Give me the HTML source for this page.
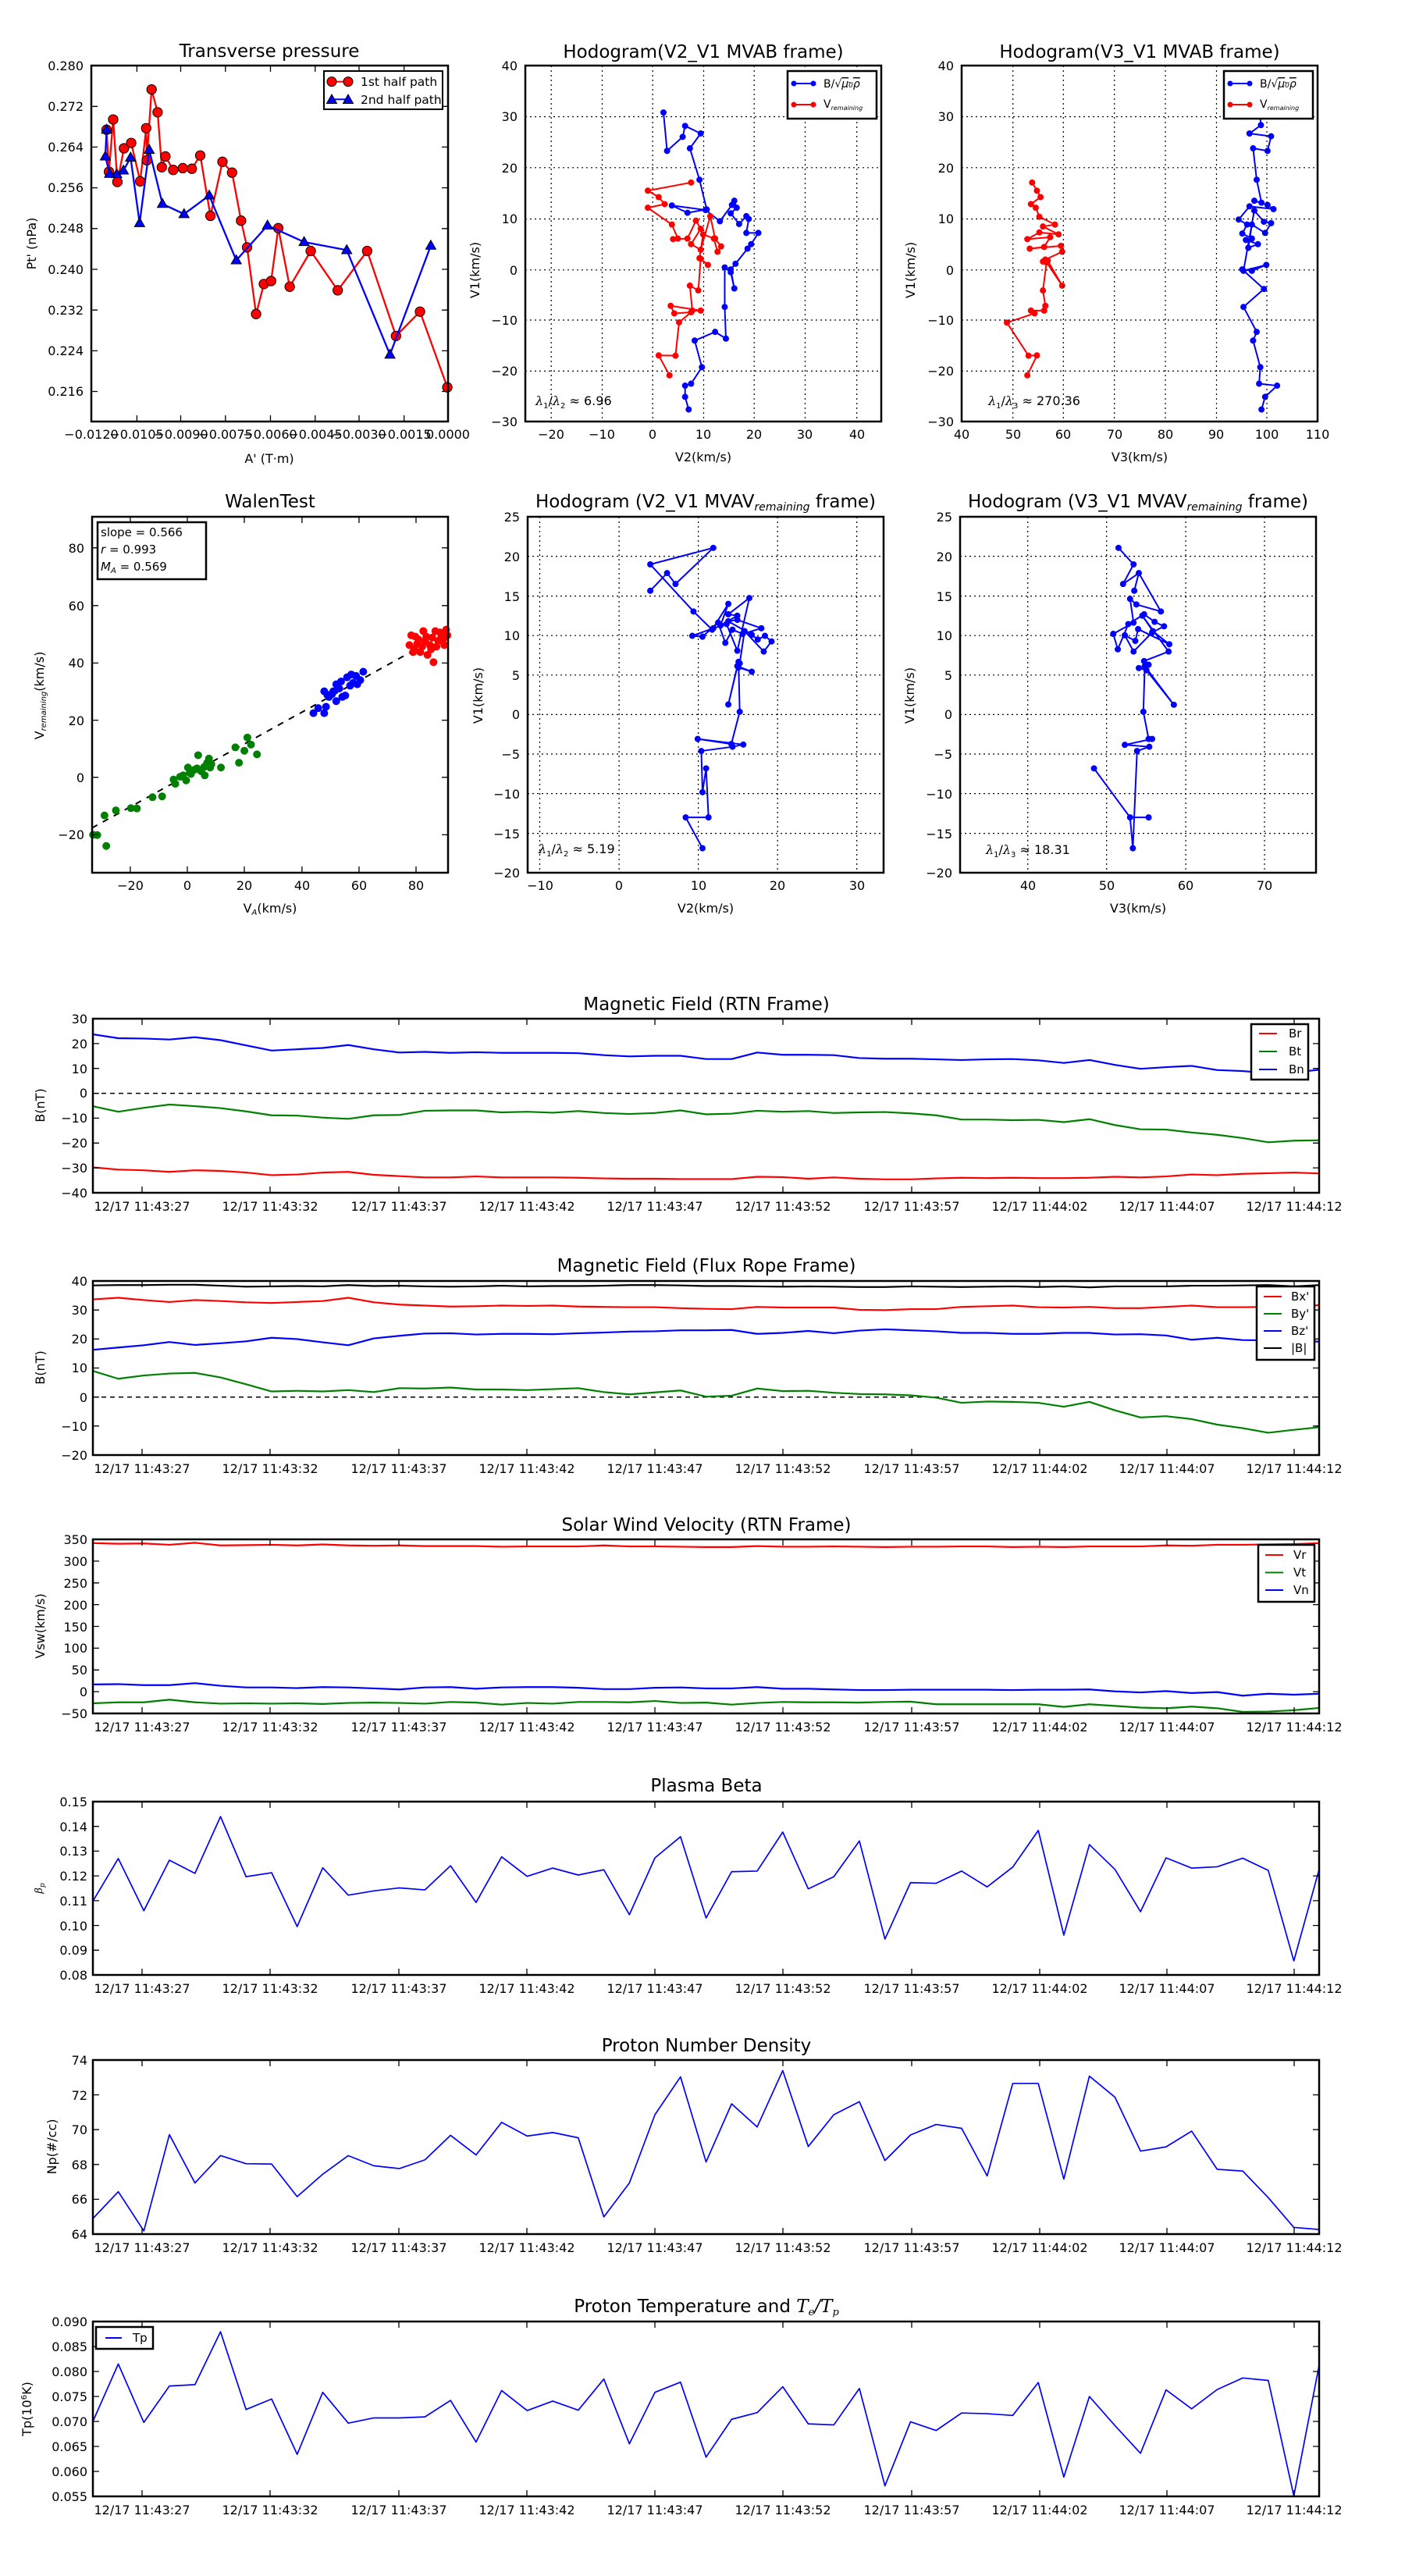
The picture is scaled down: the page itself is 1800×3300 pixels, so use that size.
<!DOCTYPE html>
<html><head><meta charset="utf-8">
<style>
html,body{margin:0;padding:0;background:#fff;}
svg{display:block;font-family:"DejaVu Sans","Liberation Sans",sans-serif;}
.t{font-size:23px;text-anchor:middle;}
.k{font-size:16px;}
.ke{font-size:16px;text-anchor:end;}
.km{font-size:16px;text-anchor:middle;}
.lg{font-size:15px;}
.ax{fill:none;stroke:#000;stroke-width:2.5;}
.tk{fill:none;stroke:#000;stroke-width:1.3;}
.gr{fill:none;stroke:#000;stroke-width:1.2;stroke-dasharray:2 4;}
.ln{fill:none;vector-effect:non-scaling-stroke;stroke-linejoin:round;}
.dt{fill:none;vector-effect:non-scaling-stroke;stroke-linecap:round;}
</style></head><body>
<svg width="1800" height="3300" viewBox="0 0 1800 3300" xmlns="http://www.w3.org/2000/svg">
<rect width="1800" height="3300" fill="#fff"/>

<!-- ===== Panel A: Transverse pressure ===== -->
<text class="t" x="345" y="73">Transverse pressure</text>
<g transform="scale(0.384615)">
<polyline fill="none" stroke="#f00" stroke-width="6" points="355,432 363,572 377,398 391,606 413,494 437,476 467,604 487,427 489,534 505,298 525,374 539,557 551,521 577,566 609,560 639,562 667,518 701,719 741,539 773,575 803,735 823,824 853,1046 879,946 903,936 927,760 965,955 1035,836 1125,967 1223,836 1319,1119 1399,1038 1490,1290"/>
<g fill="#f00" stroke="#000" stroke-width="2.5">
<circle cx="355" cy="432" r="16"/><circle cx="363" cy="572" r="16"/><circle cx="377" cy="398" r="16"/><circle cx="391" cy="606" r="16"/><circle cx="413" cy="494" r="16"/><circle cx="437" cy="476" r="16"/><circle cx="467" cy="604" r="16"/><circle cx="487" cy="427" r="16"/><circle cx="489" cy="534" r="16"/><circle cx="505" cy="298" r="16"/><circle cx="525" cy="374" r="16"/><circle cx="539" cy="557" r="16"/><circle cx="551" cy="521" r="16"/><circle cx="577" cy="566" r="16"/><circle cx="609" cy="560" r="16"/><circle cx="639" cy="562" r="16"/><circle cx="667" cy="518" r="16"/><circle cx="701" cy="719" r="16"/><circle cx="741" cy="539" r="16"/><circle cx="773" cy="575" r="16"/><circle cx="803" cy="735" r="16"/><circle cx="823" cy="824" r="16"/><circle cx="853" cy="1046" r="16"/><circle cx="879" cy="946" r="16"/><circle cx="903" cy="936" r="16"/><circle cx="927" cy="760" r="16"/><circle cx="965" cy="955" r="16"/><circle cx="1035" cy="836" r="16"/><circle cx="1125" cy="967" r="16"/><circle cx="1223" cy="836" r="16"/><circle cx="1319" cy="1119" r="16"/><circle cx="1399" cy="1038" r="16"/><circle cx="1490" cy="1290" r="16"/>
</g>
<polyline fill="none" stroke="#00f" stroke-width="6" points="355,432 351,521 365,579 389,580 411,568 435,525 465,743 497,499 541,679 613,713 697,651 787,867 891,751 1013,806 1155,833 1299,1181 1435,818"/>
<g fill="#00f" stroke="#000" stroke-width="2.5">
<path d="M355,414 l17,30 h-34z M351,503 l17,30 h-34z M365,561 l17,30 h-34z M389,562 l17,30 h-34z M411,550 l17,30 h-34z M435,507 l17,30 h-34z M465,725 l17,30 h-34z M497,481 l17,30 h-34z M541,661 l17,30 h-34z M613,695 l17,30 h-34z M697,633 l17,30 h-34z M787,849 l17,30 h-34z M891,733 l17,30 h-34z M1013,788 l17,30 h-34z M1155,815 l17,30 h-34z M1299,1163 l17,30 h-34z M1435,800 l17,30 h-34z"/>
</g>
</g>
<rect class="ax" x="117" y="84" width="457" height="456"/>
<path class="tk" d="M117,136.3h8M117,188.4h8M117,240.6h8M117,292.8h8M117,345h8M117,397.2h8M117,449.4h8M117,501.5h8 M574,136.3h-8M574,188.4h-8M574,240.6h-8M574,292.8h-8M574,345h-8M574,397.2h-8M574,449.4h-8M574,501.5h-8 M175.4,540v-8M231.5,540v-8M288.8,540v-8M346.5,540v-8M403.8,540v-8M460,540v-8M517.7,540v-8 M175.4,84v8M231.5,84v8M288.8,84v8M346.5,84v8M403.8,84v8M460,84v8M517.7,84v8"/>
<g class="ke"><text x="107" y="90">0.280</text><text x="107" y="142">0.272</text><text x="107" y="194">0.264</text><text x="107" y="246">0.256</text><text x="107" y="298">0.248</text><text x="107" y="351">0.240</text><text x="107" y="403">0.232</text><text x="107" y="455">0.224</text><text x="107" y="507">0.216</text></g>
<g class="km"><text x="117" y="562">−0.0120</text><text x="175" y="562">−0.0105</text><text x="232" y="562">−0.0090</text><text x="289" y="562">−0.0075</text><text x="346" y="562">−0.0060</text><text x="404" y="562">−0.0045</text><text x="460" y="562">−0.0030</text><text x="518" y="562">−0.0015</text><text x="574" y="562">0.0000</text></g>
<text class="km" x="345" y="593">A' (T·m)</text>
<text class="km" transform="translate(46,312) rotate(-90)">Pt' (nPa)</text>
<rect x="415" y="91" width="152" height="49" fill="#fff" stroke="#000" stroke-width="2"/>
<line x1="425" y1="104.6" x2="446" y2="104.6" stroke="#f00" stroke-width="2"/>
<circle cx="425" cy="104.6" r="6" fill="#f00" stroke="#000"/><circle cx="446" cy="104.6" r="6" fill="#f00" stroke="#000"/>
<line x1="425" y1="127.3" x2="446" y2="127.3" stroke="#00f" stroke-width="2"/>
<path d="M425,121 l6.5,11.5 h-13z M446,121 l6.5,11.5 h-13z" fill="#00f" stroke="#000"/>
<text x="462" y="110" style="font-size:15.5px">1st half path</text>
<text x="462" y="133" style="font-size:15.5px">2nd half path</text>

<!-- ===== Hodogram V2_V1 MVAB ===== -->
<text class="t" x="901" y="74">Hodogram(V2_V1 MVAB frame)</text>
<path class="gr" d="M706.2,84V540M771.5,84V540M836.2,84V540M901.5,84V540M966.2,84V540M1031.5,84V540M1097.7,84V540 M673,149.5H1129M673,214.8H1129M673,280.5H1129M673,345.8H1129M673,410H1129M673,475.4H1129"/>
<g transform="translate(600,40) scale(0.76923,0.35894)">
<polyline class="ln" stroke="#00f" stroke-width="2" points="325,290 331,427 357,377 361,338 387,365 369,418 385,530 397,636 365,648 339,622 395,638 419,678 439,620 443,605 447,630 437,650 451,688 463,660 467,670 463,720 483,720 471,760 465,776 445,830 437,850 443,918 437,860 427,843 427,984 429,1097 411,1073 377,1104 389,1199 371,1258 361,1265 361,1305 367,1350"/>
<path class="dt" stroke="#00f" stroke-width="8" d="M325,290h0M331,427h0M357,377h0M361,338h0M387,365h0M369,418h0M385,530h0M397,636h0M365,648h0M339,622h0M395,638h0M419,678h0M439,620h0M443,605h0M447,630h0M437,650h0M451,688h0M463,660h0M467,670h0M463,720h0M483,720h0M471,760h0M465,776h0M445,830h0M437,850h0M443,918h0M437,860h0M427,843h0M427,984h0M429,1097h0M411,1073h0M377,1104h0M389,1199h0M371,1258h0M361,1265h0M361,1305h0M367,1350h0"/>
<polyline class="ln" stroke="#f00" stroke-width="2" points="371,540 299,569 317,592 327,617 299,630 339,690 349,740 341,742 365,740 379,676 387,705 371,760 387,780 403,660 411,740 421,768 415,787 409,740 391,725 385,810 399,834 387,812 383,925 369,908 373,997 387,997 337,980 343,1007 371,1003 351,1039 345,1158 317,1157 335,1228"/>
<path class="dt" stroke="#f00" stroke-width="8" d="M371,540h0M299,569h0M317,592h0M327,617h0M299,630h0M339,690h0M349,740h0M341,742h0M365,740h0M379,676h0M387,705h0M371,760h0M387,780h0M403,660h0M411,740h0M421,768h0M415,787h0M409,740h0M391,725h0M385,810h0M399,834h0M387,812h0M383,925h0M369,908h0M373,997h0M387,997h0M337,980h0M343,1007h0M371,1003h0M351,1039h0M345,1158h0M317,1157h0M335,1228h0"/>
<polyline class="ln" stroke="#00f" stroke-width="2" points="1319,310 1320,335 1301,365 1337,375 1331,427 1307,418 1313,530 1321,612 1309,605 1331,620 1341,635 1301,625 1283,672 1297,690 1289,722 1305,740 1295,745 1315,760 1299,773 1305,690 1327,720 1337,685 1325,680 1309,640 1291,855 1329,834 1305,855 1289,850 1325,920 1291,984 1313,1073 1307,1104 1319,1199 1317,1258 1347,1265 1327,1305 1321,1350"/>
<path class="dt" stroke="#00f" stroke-width="8" d="M1320,335h0M1301,365h0M1337,375h0M1331,427h0M1307,418h0M1313,530h0M1321,612h0M1309,605h0M1331,620h0M1341,635h0M1301,625h0M1283,672h0M1297,690h0M1289,722h0M1305,740h0M1295,745h0M1315,760h0M1299,773h0M1305,690h0M1327,720h0M1337,685h0M1325,680h0M1309,640h0M1291,855h0M1329,834h0M1305,855h0M1289,850h0M1325,920h0M1291,984h0M1313,1073h0M1307,1104h0M1319,1199h0M1317,1258h0M1347,1265h0M1327,1305h0M1321,1350h0"/>
<polyline class="ln" stroke="#f00" stroke-width="2" points="939,540 947,569 953,592 937,617 945,630 951,662 977,690 957,697 983,725 951,718 931,742 969,735 959,770 935,776 987,766 989,787 961,815 957,822 965,819 989,908 963,825 957,925 961,980 959,997 937,997 943,1007 897,1040 933,1158 947,1157 931,1228"/>
<path class="dt" stroke="#f00" stroke-width="8" d="M939,540h0M947,569h0M953,592h0M937,617h0M945,630h0M951,662h0M977,690h0M957,697h0M983,725h0M951,718h0M931,742h0M969,735h0M959,770h0M935,776h0M987,766h0M989,787h0M961,815h0M957,822h0M965,819h0M989,908h0M963,825h0M957,925h0M961,980h0M959,997h0M937,997h0M943,1007h0M897,1040h0M933,1158h0M947,1157h0M931,1228h0"/>
</g>
<rect class="ax" x="673" y="84" width="456" height="456"/>
<g class="ke"><text x="663" y="90">40</text><text x="663" y="155">30</text><text x="663" y="221">20</text><text x="663" y="286">10</text><text x="663" y="352">0</text><text x="663" y="416">−10</text><text x="663" y="481">−20</text><text x="663" y="546">−30</text></g>
<g class="km"><text x="706" y="562">−20</text><text x="771" y="562">−10</text><text x="836" y="562">0</text><text x="901" y="562">10</text><text x="966" y="562">20</text><text x="1031" y="562">30</text><text x="1098" y="562">40</text></g>
<text class="km" x="901" y="591">V2(km/s)</text>
<text class="km" transform="translate(614,346) rotate(-90)">V1(km/s)</text>
<text x="686" y="519" style="font-size:16px"><tspan font-style="italic" font-family="DejaVu Serif,serif">λ</tspan><tspan font-size="10" dy="4">1</tspan><tspan dy="-4">/</tspan><tspan font-style="italic" font-family="DejaVu Serif,serif">λ</tspan><tspan font-size="10" dy="4">2</tspan><tspan dy="-4"> ≈ 6.96</tspan></text>
<rect x="1009" y="91" width="114" height="61" fill="#fff" stroke="#000" stroke-width="2.5"/>
<line x1="1017" y1="107" x2="1042" y2="107" stroke="#00f" stroke-width="2"/><circle cx="1017" cy="107" r="3.5" fill="#00f"/><circle cx="1042" cy="107" r="3.5" fill="#00f"/>
<line x1="1017" y1="134" x2="1042" y2="134" stroke="#f00" stroke-width="2"/><circle cx="1017" cy="134" r="3.5" fill="#f00"/><circle cx="1042" cy="134" r="3.5" fill="#f00"/>
<text x="1055" y="112" style="font-size:14px">B/√<tspan font-style="italic" text-decoration="overline">μ<tspan font-size="9">0</tspan>ρ</tspan></text>
<text x="1055" y="138" style="font-size:14px">V<tspan font-size="8" font-style="italic" dy="3">remaining</tspan></text>

<!-- ===== Hodogram V3_V1 MVAB ===== -->
<text class="t" x="1460" y="74">Hodogram(V3_V1 MVAB frame)</text>
<path class="gr" d="M1297.7,84V540M1362.3,84V540M1427.7,84V540M1493,84V540M1558.5,84V540M1623,84V540 M1232,149.5H1688M1232,214.8H1688M1232,280.5H1688M1232,345.8H1688M1232,410H1688M1232,475.4H1688"/>
<rect class="ax" x="1232" y="84" width="456" height="456"/>
<g class="ke"><text x="1222" y="90">40</text><text x="1222" y="155">30</text><text x="1222" y="221">20</text><text x="1222" y="286">10</text><text x="1222" y="352">0</text><text x="1222" y="416">−10</text><text x="1222" y="481">−20</text><text x="1222" y="546">−30</text></g>
<g class="km"><text x="1232" y="562">40</text><text x="1298" y="562">50</text><text x="1362" y="562">60</text><text x="1428" y="562">70</text><text x="1493" y="562">80</text><text x="1558" y="562">90</text><text x="1623" y="562">100</text><text x="1688" y="562">110</text></g>
<text class="km" x="1460" y="591">V3(km/s)</text>
<text class="km" transform="translate(1172,346) rotate(-90)">V1(km/s)</text>
<text x="1266" y="519" style="font-size:16px"><tspan font-style="italic" font-family="DejaVu Serif,serif">λ</tspan><tspan font-size="10" dy="4">1</tspan><tspan dy="-4">/</tspan><tspan font-style="italic" font-family="DejaVu Serif,serif">λ</tspan><tspan font-size="10" dy="4">3</tspan><tspan dy="-4"> ≈ 270.36</tspan></text>
<rect x="1568" y="91" width="114" height="61" fill="#fff" stroke="#000" stroke-width="2.5"/>
<line x1="1576" y1="107" x2="1601" y2="107" stroke="#00f" stroke-width="2"/><circle cx="1576" cy="107" r="3.5" fill="#00f"/><circle cx="1601" cy="107" r="3.5" fill="#00f"/>
<line x1="1576" y1="134" x2="1601" y2="134" stroke="#f00" stroke-width="2"/><circle cx="1576" cy="134" r="3.5" fill="#f00"/><circle cx="1601" cy="134" r="3.5" fill="#f00"/>
<text x="1614" y="112" style="font-size:14px">B/√<tspan font-style="italic" text-decoration="overline">μ<tspan font-size="9">0</tspan>ρ</tspan></text>
<text x="1614" y="138" style="font-size:14px">V<tspan font-size="8" font-style="italic" dy="3">remaining</tspan></text>

<!-- ===== WalenTest ===== -->
<text class="t" x="346" y="650">WalenTest</text>
<g transform="translate(0,620) scale(0.76923,0.35894)">
<line class="ln" x1="153" y1="1228" x2="746" y2="527" stroke="#000" stroke-width="2" style="stroke-dasharray:8 8"/>
<path class="dt" stroke="#008000" stroke-width="10" d="M155,1252h0M162,1253h0M174,1183h0M177,1292h0M193,1165h0M218,1157h0M228,1158h0M254,1118h0M270,1115h0M289,1055h0M292,1070h0M310,1058h0M313,1012h0M318,1035h0M324,1020h0M330,968h0M335,1025h0M341,1040h0M348,980h0M350,1012h0M352,1000h0M368,1012h0M392,940h0M398,995h0M407,952h0M412,905h0M418,930h0M428,965h0M316,1030h0M305,1040h0M340,1010h0M345,995h0M300,1045h0M328,1015h0"/>
<path class="dt" stroke="#00f" stroke-width="10" d="M522,818h0M530,800h0M540,818h0M543,795h0M540,740h0M548,760h0M553,750h0M560,775h0M560,715h0M565,730h0M570,760h0M575,755h0M578,690h0M583,720h0M588,710h0M593,685h0M600,700h0M605,670h0M595,715h0M585,680h0M555,740h0M545,752h0M568,705h0"/>
<path class="dt" stroke="#f00" stroke-width="10" d="M685,540h0M690,590h0M695,570h0M700,600h0M705,525h0M708,560h0M712,610h0M716,575h0M720,548h0M722,636h0M725,525h0M730,560h0M735,545h0M740,575h0M743,520h0M688,600h0M697,555h0M703,580h0M710,545h0M718,590h0M727,580h0M733,530h0M738,555h0M745,540h0M682,575h0M692,545h0"/>
</g>
<rect class="ax" x="118" y="662" width="456" height="456"/>
<path class="tk" d="M118,701.8h8M118,775.8h8M118,849.4h8M118,922.6h8M118,995.8h8M118,1069.4h8 M574,701.8h-8M574,775.8h-8M574,849.4h-8M574,922.6h-8M574,995.8h-8M574,1069.4h-8 M166.9,1118v-8M240,1118v-8M313,1118v-8M386.9,1118v-8M460,1118v-8M533,1118v-8 M166.9,662v8M240,662v8M313,662v8M386.9,662v8M460,662v8M533,662v8"/>
<g class="ke"><text x="108" y="708">80</text><text x="108" y="782">60</text><text x="108" y="855">40</text><text x="108" y="929">20</text><text x="108" y="1002">0</text><text x="108" y="1075">−20</text></g>
<g class="km"><text x="167" y="1140">−20</text><text x="240" y="1140">0</text><text x="313" y="1140">20</text><text x="387" y="1140">40</text><text x="460" y="1140">60</text><text x="533" y="1140">80</text></g>
<text class="km" x="346" y="1169">V<tspan font-size="10" font-style="italic" dy="3">A</tspan><tspan dy="-3">(km/s)</tspan></text>
<text class="km" transform="translate(56,891) rotate(-90)">V<tspan font-size="10" font-style="italic" dy="3">remaining</tspan><tspan dy="-3">(km/s)</tspan></text>
<rect x="125" y="669" width="139" height="73" fill="#fff" stroke="#000" stroke-width="2.5"/>
<text x="129" y="687" style="font-size:15px">slope = 0.566</text>
<text x="129" y="709" style="font-size:15px"><tspan font-style="italic">r</tspan> = 0.993</text>
<text x="129" y="731" style="font-size:15px"><tspan font-style="italic">M<tspan font-size="10" dy="3">A</tspan></tspan><tspan dy="-3"> = 0.569</tspan></text>

<!-- ===== Hodogram V2_V1 MVAV ===== -->
<text class="t" x="904" y="650">Hodogram (V2_V1 MVAV<tspan font-size="14" font-style="italic" dy="4">remaining</tspan><tspan dy="-4"> frame)</tspan></text>
<path class="gr" d="M691.5,662V1118M793.1,662V1118M894.6,662V1118M996.2,662V1118M1097.7,662V1118 M676,712.6H1132M676,763.6H1132M676,814.2H1132M676,864.8H1132M676,915.4H1132M676,966H1132M676,1016.6H1132M676,1067.6H1132"/>
<g transform="translate(0,620) scale(0.76923,0.35894)">
<polyline class="ln" stroke="#00f" stroke-width="2" points="1083,381 1111,318 1125,357 1188,228 1083,287 1155,455 1186,520 1213,428 1200,505 1228,470 1213,465 1248,407 1228,595 1210,500 1188,515 1153,542 1170,545 1196,495 1208,567 1220,520 1237,535 1268,515 1228,485 1213,490 1252,538 1262,555 1274,542 1285,562 1272,598 1240,525 1232,640 1230,655 1252,670 1228,650 1213,787 1230,635 1232,813 1218,928 1162,910 1238,930 1220,938 1168,953 1170,1100 1176,1015 1180,1190 1142,1190 1170,1300"/>
<path class="dt" stroke="#00f" stroke-width="8" d="M1083,381h0M1111,318h0M1125,357h0M1188,228h0M1083,287h0M1155,455h0M1186,520h0M1213,428h0M1200,505h0M1228,470h0M1213,465h0M1248,407h0M1228,595h0M1210,500h0M1188,515h0M1153,542h0M1170,545h0M1196,495h0M1208,567h0M1220,520h0M1237,535h0M1268,515h0M1228,485h0M1213,490h0M1252,538h0M1262,555h0M1274,542h0M1285,562h0M1272,598h0M1240,525h0M1232,640h0M1230,655h0M1252,670h0M1228,650h0M1213,787h0M1230,635h0M1232,813h0M1218,928h0M1162,910h0M1238,930h0M1220,938h0M1168,953h0M1170,1100h0M1176,1015h0M1180,1190h0M1142,1190h0M1170,1300h0"/>
</g>
<rect class="ax" x="676" y="662" width="456" height="456"/>
<g class="ke"><text x="666" y="668">25</text><text x="666" y="719">20</text><text x="666" y="770">15</text><text x="666" y="820">10</text><text x="666" y="871">5</text><text x="666" y="921">0</text><text x="666" y="972">−5</text><text x="666" y="1023">−10</text><text x="666" y="1074">−15</text><text x="666" y="1124">−20</text></g>
<g class="km"><text x="692" y="1140">−10</text><text x="793" y="1140">0</text><text x="895" y="1140">10</text><text x="996" y="1140">20</text><text x="1098" y="1140">30</text></g>
<text class="km" x="904" y="1169">V2(km/s)</text>
<text class="km" transform="translate(618,891) rotate(-90)">V1(km/s)</text>
<text x="690" y="1093" style="font-size:16px"><tspan font-style="italic" font-family="DejaVu Serif,serif">λ</tspan><tspan font-size="10" dy="4">1</tspan><tspan dy="-4">/</tspan><tspan font-style="italic" font-family="DejaVu Serif,serif">λ</tspan><tspan font-size="10" dy="4">2</tspan><tspan dy="-4"> ≈ 5.19</tspan></text>

<!-- ===== Hodogram V3_V1 MVAV ===== -->
<text class="t" x="1458" y="650">Hodogram (V3_V1 MVAV<tspan font-size="14" font-style="italic" dy="4">remaining</tspan><tspan dy="-4"> frame)</tspan></text>
<path class="gr" d="M1316.7,662V1118M1417.7,662V1118M1519.1,662V1118M1620,662V1118 M1230,712.6H1686M1230,763.6H1686M1230,814.2H1686M1230,864.8H1686M1230,915.4H1686M1230,966H1686M1230,1016.6H1686M1230,1067.6H1686"/>
<g transform="translate(1100,620) scale(0.44872,0.35894)">
<polyline class="ln" stroke="#00f" stroke-width="2" points="742,228 785,287 755,357 800,318 787,381 800,318 863,455 793,430 775,410 785,495 727,535 740,590 770,500 815,465 845,492 872,508 838,530 785,598 760,540 790,560 798,518 887,572 840,525 810,470 885,598 815,632 828,645 800,657 822,665 900,788 817,650 813,813 828,910 838,910 760,931 830,938 795,953 783,1300 775,1190 828,1190 775,1190 672,1015"/>
<path class="dt" stroke="#00f" stroke-width="8" d="M742,228h0M785,287h0M755,357h0M800,318h0M787,381h0M863,455h0M793,430h0M775,410h0M785,495h0M727,535h0M740,590h0M770,500h0M815,465h0M845,492h0M872,508h0M838,530h0M785,598h0M760,540h0M790,560h0M798,518h0M887,572h0M840,525h0M810,470h0M885,598h0M815,632h0M828,645h0M800,657h0M822,665h0M900,788h0M817,650h0M813,813h0M828,910h0M838,910h0M760,931h0M830,938h0M795,953h0M783,1300h0M775,1190h0M828,1190h0M672,1015h0"/>
</g>
<rect class="ax" x="1230" y="662" width="456" height="456"/>
<g class="ke"><text x="1220" y="668">25</text><text x="1220" y="719">20</text><text x="1220" y="770">15</text><text x="1220" y="820">10</text><text x="1220" y="871">5</text><text x="1220" y="921">0</text><text x="1220" y="972">−5</text><text x="1220" y="1023">−10</text><text x="1220" y="1074">−15</text><text x="1220" y="1124">−20</text></g>
<g class="km"><text x="1317" y="1140">40</text><text x="1418" y="1140">50</text><text x="1519" y="1140">60</text><text x="1620" y="1140">70</text></g>
<text class="km" x="1458" y="1169">V3(km/s)</text>
<text class="km" transform="translate(1171,891) rotate(-90)">V1(km/s)</text>
<text x="1263" y="1094" style="font-size:16px"><tspan font-style="italic" font-family="DejaVu Serif,serif">λ</tspan><tspan font-size="10" dy="4">1</tspan><tspan dy="-4">/</tspan><tspan font-style="italic" font-family="DejaVu Serif,serif">λ</tspan><tspan font-size="10" dy="4">3</tspan><tspan dy="-4"> ≈ 18.31</tspan></text>

<!-- ===== Time-series common ===== -->
<defs>
<path id="xt" d="M182,0v-8M346,0v-8M511,0v-8M675,0v-8M839,0v-8M1003,0v-8M1168,0v-8M1332,0v-8M1495,0v-8M1658,0v-8"/>
<path id="xtt" d="M182,0v8M346,0v8M511,0v8M675,0v8M839,0v8M1003,0v8M1168,0v8M1332,0v8M1495,0v8M1658,0v8"/>
<g id="xl" class="km"><text x="182" y="0">12/17 11:43:27</text><text x="346" y="0">12/17 11:43:32</text><text x="511" y="0">12/17 11:43:37</text><text x="675" y="0">12/17 11:43:42</text><text x="839" y="0">12/17 11:43:47</text><text x="1003" y="0">12/17 11:43:52</text><text x="1168" y="0">12/17 11:43:57</text><text x="1332" y="0">12/17 11:44:02</text><text x="1495" y="0">12/17 11:44:07</text><text x="1658" y="0">12/17 11:44:12</text></g>
</defs>

<!-- Magnetic Field RTN -->
<text class="t" x="905" y="1294">Magnetic Field (RTN Frame)</text>
<line x1="119" y1="1400.6" x2="1690" y2="1400.6" stroke="#000" stroke-width="1.5" stroke-dasharray="6 5"/>
<g transform="translate(118.8,1250) scale(32.74,0.41667)">
<polyline class="ln" stroke="#00f" stroke-width="2.2" points="0,180 1,192 2,193 3,196 4,189 5,198 6,214 7,230 8,226 9,222 10,213 11,226 12,236 13,234 14,237 15,235 16,237 17,237 18,237 19,238 20,244 21,248 22,246 23,246 24,256 25,256 26,236 27,243 28,243 29,244 30,253 31,255 32,255 33,257 34,259 35,257 36,256 37,260 38,268 39,259 40,274 41,286 42,281 43,277 44,290 45,293 46,300 47,297 48,289"/>
<polyline class="ln" stroke="#008000" stroke-width="2.2" points="0,401 1,418 2,406 3,396 4,401 5,407 6,417 7,429 8,430 9,436 10,440 11,429 12,428 13,415 14,414 15,414 16,420 17,418 18,421 19,416 20,422 21,425 22,422 23,414 24,426 25,424 26,415 27,418 28,416 29,422 30,420 31,419 32,423 33,429 34,442 35,442 36,444 37,443 38,450 39,441 40,459 41,472 42,473 43,482 44,489 45,499 46,512 47,507 48,506"/>
<polyline class="ln" stroke="#f00" stroke-width="2.2" points="0,589 1,596 2,598 3,603 4,598 5,600 6,605 7,613 8,611 9,605 10,603 11,612 12,616 13,620 14,620 15,617 16,620 17,620 18,620 19,621 20,623 21,624 22,624 23,625 24,625 25,625 26,618 27,619 28,624 29,620 30,624 31,626 32,626 33,623 34,621 35,622 36,621 37,622 38,622 39,621 40,618 41,620 42,617 43,611 44,613 45,609 46,607 47,605 48,608"/>
</g>
<rect class="ax" x="119" y="1305" width="1571" height="223"/>
<use href="#xt" transform="translate(0,1528)" class="tk"/><use href="#xtt" transform="translate(0,1305)" class="tk"/>
<path class="tk" d="M119,1336.9h8M119,1368.7h8M119,1400.6h8M119,1432.4h8M119,1464.3h8M119,1496.1h8M1690,1336.9h-8M1690,1368.7h-8M1690,1400.6h-8M1690,1432.4h-8M1690,1464.3h-8M1690,1496.1h-8"/>
<g class="ke"><text x="112" y="1311">30</text><text x="112" y="1343">20</text><text x="112" y="1375">10</text><text x="112" y="1406">0</text><text x="112" y="1438">−10</text><text x="112" y="1470">−20</text><text x="112" y="1502">−30</text><text x="112" y="1534">−40</text></g>
<use href="#xl" transform="translate(0,1551)"/>
<text class="km" transform="translate(57,1416) rotate(-90)">B(nT)</text>
<rect x="1603" y="1312" width="73" height="71" fill="#fff" stroke="#000" stroke-width="2.5"/>
<line x1="1613" y1="1324" x2="1636" y2="1324" stroke="#f00" stroke-width="2"/><line x1="1613" y1="1347" x2="1636" y2="1347" stroke="#008000" stroke-width="2"/><line x1="1613" y1="1370" x2="1636" y2="1370" stroke="#00f" stroke-width="2"/>
<text class="lg" x="1651" y="1329">Br</text><text class="lg" x="1651" y="1352">Bt</text><text class="lg" x="1651" y="1375">Bn</text>

<!-- Magnetic Field Flux Rope -->
<text class="t" x="905" y="1629">Magnetic Field (Flux Rope Frame)</text>
<line x1="119" y1="1789.7" x2="1690" y2="1789.7" stroke="#000" stroke-width="1.5" stroke-dasharray="6 5"/>
<g transform="translate(118.8,1250) scale(32.74,0.41667)">
<polyline class="ln" stroke="#000" stroke-width="2.2" points="0,952 1,951 2,951 3,950 4,950 5,953 6,956 7,955 8,954 9,955 10,951 11,954 12,953 13,955 14,956 15,955 16,953 17,955 18,954 19,954 20,953 21,951 22,951 23,952 24,954 25,954 26,955 27,956 28,955 29,956 30,957 31,957 32,955 33,956 34,957 35,956 36,955 37,957 38,955 39,958 40,955 41,955 42,955 43,953 44,953 45,952 46,951 47,955 48,951"/>
<polyline class="ln" stroke="#f00" stroke-width="2.2" points="0,995 1,990 2,997 3,1003 4,997 5,1000 6,1004 7,1006 8,1003 9,1000 10,990 11,1004 12,1011 13,1014 14,1017 15,1016 16,1014 17,1015 18,1014 19,1017 20,1018 21,1019 22,1019 23,1022 24,1024 25,1025 26,1018 27,1020 28,1020 29,1020 30,1027 31,1028 32,1025 33,1025 34,1018 35,1016 36,1014 37,1019 38,1020 39,1018 40,1022 41,1022 42,1018 43,1014 44,1019 45,1019 46,1018 47,1016 48,1013"/>
<polyline class="ln" stroke="#00f" stroke-width="2.2" points="0,1150 1,1143 2,1136 3,1126 4,1135 5,1130 6,1124 7,1113 8,1117 9,1127 10,1136 11,1115 12,1107 13,1100 14,1099 15,1103 16,1101 17,1101 18,1102 19,1099 20,1097 21,1094 22,1093 23,1090 24,1090 25,1089 26,1101 27,1098 28,1092 29,1099 30,1091 31,1087 32,1090 33,1093 34,1098 35,1098 36,1101 37,1101 38,1098 39,1098 40,1103 41,1102 42,1106 43,1119 44,1113 45,1120 46,1121 47,1121 48,1125"/>
<polyline class="ln" stroke="#008000" stroke-width="2.2" points="0,1215 1,1239 2,1229 3,1223 4,1221 5,1235 6,1256 7,1278 8,1276 9,1278 10,1274 11,1280 12,1268 13,1269 14,1266 15,1272 16,1272 17,1274 18,1271 19,1268 20,1280 21,1287 22,1281 23,1275 24,1294 25,1291 26,1269 27,1277 28,1276 29,1282 30,1286 31,1287 32,1290 33,1297 34,1313 35,1309 36,1310 37,1313 38,1325 39,1310 40,1336 41,1358 42,1354 43,1363 44,1380 45,1391 46,1405 47,1396 48,1388"/>
</g>
<rect class="ax" x="119" y="1641" width="1571" height="223"/>
<use href="#xt" transform="translate(0,1864)" class="tk"/><use href="#xtt" transform="translate(0,1641)" class="tk"/>
<path class="tk" d="M119,1678.2h8M119,1715.3h8M119,1752.5h8M119,1789.7h8M119,1826.8h8M1690,1678.2h-8M1690,1715.3h-8M1690,1752.5h-8M1690,1789.7h-8M1690,1826.8h-8"/>
<g class="ke"><text x="112" y="1647">40</text><text x="112" y="1684">30</text><text x="112" y="1721">20</text><text x="112" y="1758">10</text><text x="112" y="1796">0</text><text x="112" y="1833">−10</text><text x="112" y="1870">−20</text></g>
<use href="#xl" transform="translate(0,1887)"/>
<text class="km" transform="translate(57,1752) rotate(-90)">B(nT)</text>
<rect x="1610" y="1648" width="74" height="94" fill="#fff" stroke="#000" stroke-width="2.5"/>
<line x1="1619" y1="1661" x2="1642" y2="1661" stroke="#f00" stroke-width="2"/><line x1="1619" y1="1683" x2="1642" y2="1683" stroke="#008000" stroke-width="2"/><line x1="1619" y1="1705" x2="1642" y2="1705" stroke="#00f" stroke-width="2"/><line x1="1619" y1="1727" x2="1642" y2="1727" stroke="#000" stroke-width="2"/>
<text class="lg" x="1654" y="1666">Bx'</text><text class="lg" x="1654" y="1688">By'</text><text class="lg" x="1654" y="1710">Bz'</text><text class="lg" x="1654" y="1732">|B|</text>

<!-- Solar Wind Velocity -->
<text class="t" x="905" y="1961">Solar Wind Velocity (RTN Frame)</text>
<g transform="translate(118.8,1940) scale(32.74,0.42308)">
<polyline class="ln" stroke="#f00" stroke-width="2.2" points="0,87 1,89 2,88 3,92 4,86 5,94 6,93 7,92 8,94 9,91 10,94 11,95 12,94 13,96 14,96 15,96 16,98 17,97 18,97 19,97 20,94 21,97 22,97 23,98 24,99 25,99 26,96 27,98 28,98 29,97 30,98 31,99 32,98 33,98 34,97 35,97 36,99 37,98 38,99 39,97 40,97 41,97 42,94 43,95 44,92 45,92 46,91 47,90 48,87"/>
<polyline class="ln" stroke="#00f" stroke-width="2.2" points="0,515 1,514 2,517 3,517 4,511 5,519 6,524 7,524 8,526 9,523 10,524 11,527 12,530 13,524 14,523 15,528 16,524 17,523 18,523 19,525 20,529 21,529 22,525 23,524 24,527 25,527 26,523 27,528 28,528 29,530 30,532 31,532 32,531 33,531 34,531 35,531 36,532 37,531 38,531 39,530 40,536 41,539 42,535 43,541 44,538 45,549 46,543 47,546 48,543"/>
<polyline class="ln" stroke="#008000" stroke-width="2.2" points="0,572 1,569 2,569 3,561 4,569 5,573 6,572 7,573 8,572 9,574 10,571 11,570 12,571 13,573 14,568 15,570 16,576 17,571 18,573 19,568 20,568 21,569 22,565 23,571 24,570 25,576 26,571 27,568 28,569 29,569 30,570 31,568 32,567 33,575 34,575 35,575 36,575 37,575 38,583 39,575 40,580 41,585 42,587 43,582 44,587 45,598 46,597 47,593 48,586"/>
</g>
<rect class="ax" x="119" y="1972" width="1571" height="223"/>
<use href="#xt" transform="translate(0,2195)" class="tk"/><use href="#xtt" transform="translate(0,1972)" class="tk"/>
<path class="tk" d="M119,1999.9h8M119,2027.8h8M119,2055.6h8M119,2083.5h8M119,2111.4h8M119,2139.3h8M119,2167.1h8M1690,1999.9h-8M1690,2027.8h-8M1690,2055.6h-8M1690,2083.5h-8M1690,2111.4h-8M1690,2139.3h-8M1690,2167.1h-8"/>
<g class="ke"><text x="112" y="1978">350</text><text x="112" y="2006">300</text><text x="112" y="2034">250</text><text x="112" y="2062">200</text><text x="112" y="2090">150</text><text x="112" y="2117">100</text><text x="112" y="2145">50</text><text x="112" y="2173">0</text><text x="112" y="2201">−50</text></g>
<use href="#xl" transform="translate(0,2218)"/>
<text class="km" transform="translate(57,2083) rotate(-90)">Vsw(km/s)</text>
<rect x="1612" y="1979" width="72" height="73" fill="#fff" stroke="#000" stroke-width="2.5"/>
<line x1="1621" y1="1992" x2="1644" y2="1992" stroke="#f00" stroke-width="2"/><line x1="1621" y1="2014.5" x2="1644" y2="2014.5" stroke="#008000" stroke-width="2"/><line x1="1621" y1="2037" x2="1644" y2="2037" stroke="#00f" stroke-width="2"/>
<text class="lg" x="1657" y="1997">Vr</text><text class="lg" x="1657" y="2019.5">Vt</text><text class="lg" x="1657" y="2042">Vn</text>

<!-- Plasma Beta -->
<text class="t" x="905" y="2295">Plasma Beta</text>
<g transform="translate(118.8,1940) scale(32.74,0.42308)">
<polyline class="ln" stroke="#00f" stroke-width="1.7" points="0,1172 1,1042 2,1200 3,1047 4,1087 5,915 6,1097 7,1085 8,1248 9,1070 10,1153 11,1140 12,1131 13,1137 14,1064 15,1175 16,1037 17,1096 18,1071 19,1092 20,1076 21,1212 22,1040 23,976 24,1222 25,1082 26,1080 27,962 28,1134 29,1097 30,989 31,1286 32,1115 33,1117 34,1080 35,1128 36,1068 37,957 38,1274 39,1000 40,1075 41,1203 42,1040 43,1071 44,1067 45,1041 46,1078 47,1352 48,1072"/>
</g>
<rect class="ax" x="119" y="2308" width="1571" height="222"/>
<use href="#xt" transform="translate(0,2530)" class="tk"/><use href="#xtt" transform="translate(0,2308)" class="tk"/>
<path class="tk" d="M119,2339.7h8M119,2371.4h8M119,2403.1h8M119,2434.9h8M119,2466.6h8M119,2498.3h8M1690,2339.7h-8M1690,2371.4h-8M1690,2403.1h-8M1690,2434.9h-8M1690,2466.6h-8M1690,2498.3h-8"/>
<g class="ke"><text x="112" y="2314">0.15</text><text x="112" y="2346">0.14</text><text x="112" y="2377">0.13</text><text x="112" y="2409">0.12</text><text x="112" y="2441">0.11</text><text x="112" y="2473">0.10</text><text x="112" y="2504">0.09</text><text x="112" y="2536">0.08</text></g>
<use href="#xl" transform="translate(0,2553)"/>
<text transform="translate(54,2419) rotate(-90)" style="font-size:13px;text-anchor:middle;font-style:italic;font-family:'DejaVu Serif',serif">β<tspan font-size="9" dy="3">p</tspan></text>

<!-- Proton Number Density -->
<text class="t" x="905" y="2628">Proton Number Density</text>
<g transform="translate(118.8,2600) scale(32.74,0.44857)">
<polyline class="ln" stroke="#00f" stroke-width="1.7" points="0,540 1,463 2,575 3,300 4,438 5,360 6,383 7,384 8,477 9,413 10,360 11,389 12,397 13,372 14,302 15,358 16,265 17,304 18,294 19,309 20,535 21,438 22,243 23,135 24,378 25,212 26,278 27,117 28,334 29,243 30,206 31,374 32,301 33,271 34,282 35,418 36,154 37,154 38,427 39,133 40,193 41,347 42,335 43,290 44,399 45,404 46,480 47,565 48,571"/>
</g>
<rect class="ax" x="119" y="2639" width="1571" height="223"/>
<use href="#xt" transform="translate(0,2862)" class="tk"/><use href="#xtt" transform="translate(0,2639)" class="tk"/>
<path class="tk" d="M119,2683.6h8M119,2728.2h8M119,2772.8h8M119,2817.4h8M1690,2683.6h-8M1690,2728.2h-8M1690,2772.8h-8M1690,2817.4h-8"/>
<g class="ke"><text x="112" y="2645">74</text><text x="112" y="2690">72</text><text x="112" y="2734">70</text><text x="112" y="2779">68</text><text x="112" y="2823">66</text><text x="112" y="2868">64</text></g>
<use href="#xl" transform="translate(0,2885)"/>
<text class="km" transform="translate(72,2750) rotate(-90)">Np(#/cc)</text>

<!-- Proton Temperature -->
<text class="t" x="905" y="2962">Proton Temperature and <tspan font-style="italic" font-family="DejaVu Serif,serif">T<tspan font-size="13" dy="4">e</tspan><tspan dy="-4">/T</tspan><tspan font-size="13" dy="4">p</tspan></tspan></text>
<g transform="translate(118.8,2600) scale(32.74,0.44857)">
<polyline class="ln" stroke="#00f" stroke-width="1.7" points="0,1120 1,955 2,1122 3,1018 4,1014 5,863 6,1085 7,1055 8,1213 9,1036 10,1124 11,1109 12,1109 13,1106 14,1059 15,1178 16,1031 17,1088 18,1061 19,1087 20,998 21,1183 22,1036 23,1007 24,1221 25,1113 26,1094 27,1020 28,1126 29,1129 30,1025 31,1303 32,1120 33,1145 34,1095 35,1097 36,1102 37,1008 38,1278 39,1048 40,1131 41,1210 42,1029 43,1083 44,1028 45,995 46,1002 47,1332 48,955"/>
</g>
<rect class="ax" x="119" y="2974" width="1571" height="224"/>
<use href="#xt" transform="translate(0,3198)" class="tk"/><use href="#xtt" transform="translate(0,2974)" class="tk"/>
<path class="tk" d="M119,3006h8M119,3038h8M119,3070h8M119,3102h8M119,3134h8M119,3166h8M1690,3006h-8M1690,3038h-8M1690,3070h-8M1690,3102h-8M1690,3134h-8M1690,3166h-8"/>
<g class="ke"><text x="112" y="2980">0.090</text><text x="112" y="3012">0.085</text><text x="112" y="3044">0.080</text><text x="112" y="3076">0.075</text><text x="112" y="3108">0.070</text><text x="112" y="3140">0.065</text><text x="112" y="3172">0.060</text><text x="112" y="3204">0.055</text></g>
<use href="#xl" transform="translate(0,3221)"/>
<text class="km" transform="translate(40,3086) rotate(-90)">Tp(10<tspan font-size="10" dy="-6">6</tspan><tspan dy="6">K)</tspan></text>
<rect x="123" y="2981" width="73" height="28" fill="#fff" stroke="#000" stroke-width="2.5"/>
<line x1="135" y1="2995" x2="156" y2="2995" stroke="#00f" stroke-width="2"/>
<text class="lg" x="170" y="3000">Tp</text>
</svg>
</body></html>
